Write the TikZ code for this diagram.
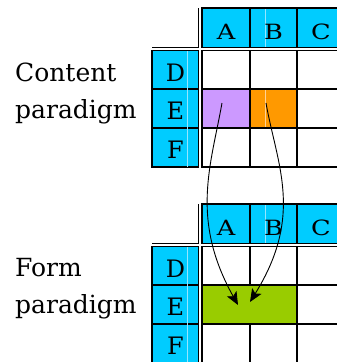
\documentclass[tikz,border=0pt]{standalone}
\usepackage{fontspec}
\setmainfont{DejaVu Serif}
\usetikzlibrary{arrows.meta}
\definecolor{hdr}{RGB}{0,204,255}
\definecolor{hdrlight}{RGB}{150,230,255}
\definecolor{lilac}{RGB}{204,153,255}
\definecolor{amber}{RGB}{255,153,0}
\definecolor{amberlight}{RGB}{255,210,150}
\definecolor{lime}{RGB}{153,204,0}
\begin{document}
\begin{tikzpicture}[x=1pt,y=-1pt,
  gridline/.style={draw=black,line width=1.5pt},
  faint/.style={line width=0.5pt},
  hlabel/.style={anchor=base,inner sep=0pt,font=\fontsize{21}{25}\selectfont},
  rlabel/.style={anchor=base,inner sep=0pt,font=\fontsize{24}{28}\selectfont},
  side/.style={anchor=base west,inner sep=0pt,font=\fontsize{25}{30}\selectfont},
  link/.style={line width=0.9pt,-{Stealth[length=13pt,width=11pt,inset=3pt]}}]
\useasboundingbox (0,0) rectangle (337,362);
\clip (0,0) rectangle (337,362);
\foreach \dy/\tg in {0/t,196/b}{
\begin{scope}[shift={(0,\dy)}]
  % header
  \draw[gridline,fill=hdr] (202,8) rectangle (250,47.5);
  \draw[gridline,fill=hdr] (250,8) rectangle (297,47.5);
  \draw[gridline,fill=hdr] (297,8) rectangle (345,47.5);
  \draw[faint,draw=hdrlight] (265,9) -- (265,47);
  % row labels
  \draw[gridline,fill=hdr] (152,50.5) rectangle (198.5,89);
  \draw[gridline,fill=hdr] (152,89) rectangle (198.5,128);
  \draw[gridline,fill=hdr] (152,128) rectangle (198.5,167);
  \draw[faint,draw=hdrlight] (187.5,51) -- (187.5,166.5);
  % double separators
  \draw[gridline] (152,47.5) -- (198.5,47.5);
  \draw[gridline] (198.5,8) -- (198.5,47.5);
  % grid
  \foreach \xa/\xb in {202/250,250/297,297/345}{
    \foreach \ya/\yb in {50.5/89,89/128,128/167}{
      \draw[gridline] (\xa,\ya) rectangle (\xb,\yb);
    }
  }
  % labels
  \node[hlabel] (A\tg) at (226,39.3) {\scalebox{1.22}[1]{A}};
  \node[hlabel] (B\tg) at (273.5,39.3) {\scalebox{1.22}[1]{B}};
  \node[hlabel] (C\tg) at (321,39.3) {\scalebox{1.22}[1]{C}};
  \node[rlabel] (D\tg) at (175.5,81) {D};
  \node[rlabel] (E\tg) at (175.5,119.5) {E};
  \node[rlabel] (F\tg) at (175.5,158) {F};
\end{scope}
}
% coloured cells
\draw[gridline,fill=lilac] (202,89) rectangle (250,128);
\draw[gridline,fill=amber] (250,89) rectangle (297,128);
\draw[faint,draw=amberlight] (265,90) -- (265,127);
\draw[gridline,fill=lime] (202,285) rectangle (297,324);
% side texts
\node[side] (c1) at (15,81) {Content};
\node[side] (c2) at (15,118) {paradigm};
\node[side] (f1) at (15,276) {Form};
\node[side] (f2) at (15,313) {paradigm};
% arrows
\coordinate (s1) at (222,103);
\coordinate (s2) at (266,103);
\coordinate (e1) at (238,305);
\coordinate (e2) at (250,302);
\draw[link] (s1) .. controls (211,165) and (190,219) .. (e1);
\draw[link] (s2) .. controls (277,165) and (304,215) .. (e2);
\end{tikzpicture}
\end{document}
